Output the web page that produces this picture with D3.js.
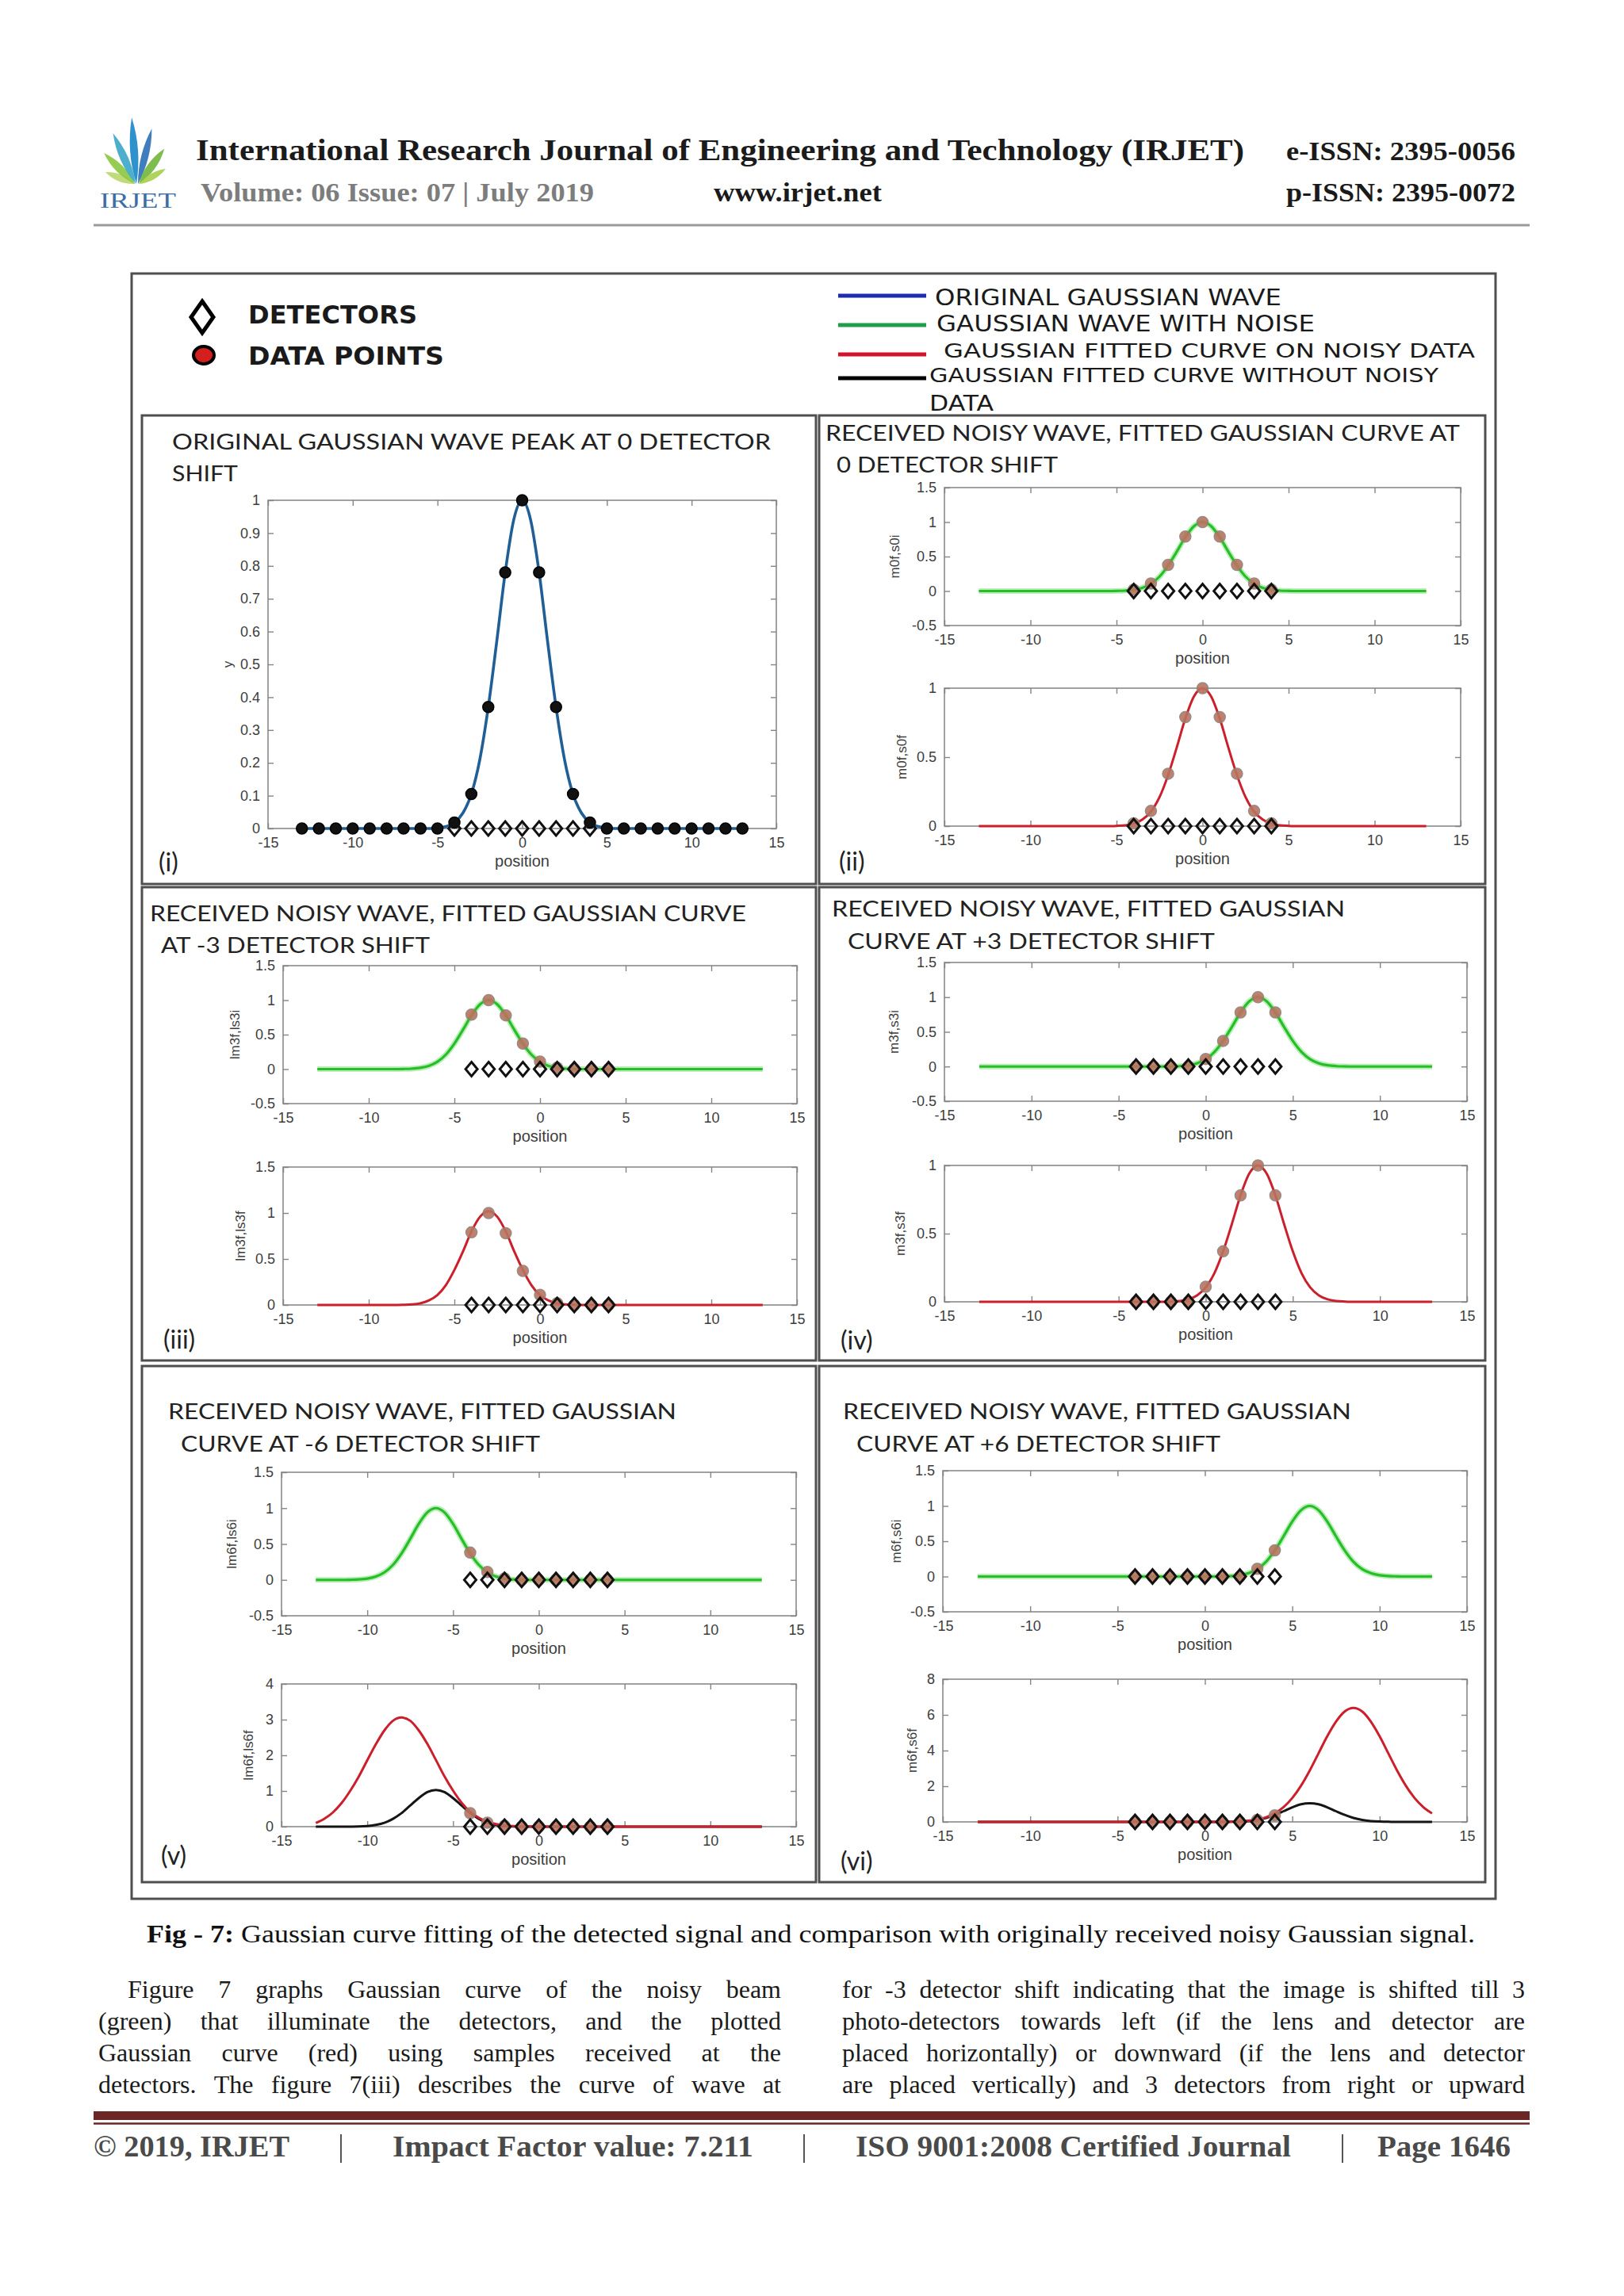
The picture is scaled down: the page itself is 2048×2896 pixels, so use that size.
<!DOCTYPE html>
<html><head><meta charset="utf-8">
<script src="https://cdn.jsdelivr.net/npm/d3@7"></script>
<style>html,body{margin:0;padding:0;background:#fff}svg{display:block}</style>
</head><body>
<svg id="c" width="2048" height="2896" xmlns="http://www.w3.org/2000/svg"></svg>
<script>
// ---------------- DATA ----------------
const xTicks = [-15,-10,-5,0,5,10,15];
const yTicksFine = [0,0.1,0.2,0.3,0.4,0.5,0.6,0.7,0.8,0.9,1];
const yTicksTop = [-0.5,0,0.5,1,1.5];
const yTicks01 = [0,0.5,1];
const yTicks015 = [0,0.5,1,1.5];
const yTicks04 = [0,1,2,3,4];
const yTicks08 = [0,2,4,6,8];

const gridX = [-13,-12.5,-12,-11.5,-11,-10.5,-10,-9.5,-9,-8.5,-8,-7.5,-7,-6.5,-6,-5.5,-5,-4.5,-4,-3.5,-3,-2.5,-2,-1.5,-1,-0.5,0,0.5,1,1.5,2,2.5,3,3.5,4,4.5,5,5.5,6,6.5,7,7.5,8,8.5,9,9.5,10,10.5,11,11.5,12,12.5,13];
const dotX_i = [-13,-12,-11,-10,-9,-8,-7,-6,-5,-4,-3,-2,-1,0,1,2,3,4,5,6,7,8,9,10,11,12,13];
const detectorX = [-4,-3,-2,-1,0,1,2,3,4];

// (i) original wave, peak at 0
const origWave_i = [0,0,0,0,0,0,0,0,0,0, 0,0,0,0,0,0, 0.002,0.006,0.018,0.047,0.105,0.21,0.37,0.57,0.78,0.94, 1.00, 0.94,0.78,0.57,0.37,0.21,0.105,0.047,0.018,0.006,0.002, 0,0,0,0,0,0,0,0,0,0, 0,0,0,0,0,0];
const dots_i = [0,0,0,0,0,0,0,0,0,0.018,0.105,0.37,0.78,1.00,0.78,0.37,0.105,0.018,0,0,0,0,0,0,0,0,0];

// (ii) 0 shift
const noisy_ii = [0,0,0,0,0,0,0,0,0,0, 0,0,0,0,0,0, 0.002,0.006,0.018,0.047,0.105,0.21,0.37,0.57,0.78,0.94, 1.00, 0.94,0.78,0.57,0.37,0.21,0.105,0.047,0.018,0.006,0.002, 0,0,0,0,0,0,0,0,0,0, 0,0,0,0,0,0];
const fit_ii = [0,0,0,0,0,0,0,0,0,0, 0,0,0,0,0,0, 0.002,0.006,0.018,0.047,0.105,0.21,0.37,0.57,0.78,0.94, 1.00, 0.94,0.78,0.57,0.37,0.21,0.105,0.047,0.018,0.006,0.002, 0,0,0,0,0,0,0,0,0,0, 0,0,0,0,0,0];
const dots_ii = [0.02,0.11,0.38,0.79,1.00,0.79,0.38,0.11,0.02];

// (iii) -3 shift
const noisy_iii = [0,0,0,0,0,0,0,0,0,0, 0.002,0.006,0.018,0.047,0.105,0.21,0.37,0.57,0.78,0.94, 1.00, 0.94,0.78,0.57,0.37,0.21,0.105,0.047,0.018,0.006,0.002, 0,0,0,0,0,0,0,0,0,0, 0,0,0,0,0,0,0,0,0,0, 0,0];
const fit_iii = [0,0,0,0,0,0,0,0,0,0, 0.002,0.006,0.018,0.048,0.107,0.215,0.38,0.58,0.80,0.96, 1.02, 0.96,0.80,0.58,0.38,0.215,0.107,0.048,0.018,0.006,0.002, 0,0,0,0,0,0,0,0,0,0, 0,0,0,0,0,0,0,0,0,0, 0,0];
const dots_iii = [0.79,1.00,0.78,0.37,0.11,0.02,0,0,0];

// (iv) +3 shift
const noisy_iv = [0,0,0,0,0,0,0,0,0,0, 0,0,0,0,0,0,0,0,0,0, 0,0, 0.002,0.006,0.018,0.047,0.105,0.21,0.37,0.57,0.78,0.94, 1.00, 0.94,0.78,0.57,0.37,0.21,0.105,0.047,0.018,0.006,0.002, 0,0,0,0,0,0,0,0,0,0];
const fit_iv = [0,0,0,0,0,0,0,0,0,0, 0,0,0,0,0,0,0,0,0,0, 0,0, 0.002,0.006,0.018,0.047,0.105,0.21,0.37,0.57,0.78,0.94, 1.00, 0.94,0.78,0.57,0.37,0.21,0.105,0.047,0.018,0.006,0.002, 0,0,0,0,0,0,0,0,0,0];
const dots_iv = [0,0,0,0,0.11,0.37,0.78,1.00,0.78];

// (v) -6 shift
const noisy_v = [0,0,0,0, 0.002,0.006,0.018,0.047,0.105,0.21,0.37,0.57,0.78,0.94, 1.00, 0.94,0.78,0.57,0.37,0.21,0.105,0.047,0.018,0.006,0.002, 0,0,0,0,0,0,0,0,0,0, 0,0,0,0,0,0,0,0,0,0, 0,0,0,0,0,0,0,0];
const fitNoisy_v = [0.10,0.22,0.40,0.66,1.00,1.40,1.86,2.31,2.70,2.97, 3.06, 2.97,2.70,2.32,1.87,1.41,1.01,0.67,0.42,0.25, 0.14,0.073,0.036,0.017,0.007,0.003, 0,0,0,0,0,0,0,0,0,0, 0,0,0,0,0,0,0,0,0,0, 0,0,0,0,0,0,0];
const fitClean_v = [0,0,0,0, 0.002,0.006,0.019,0.048,0.108,0.22,0.38,0.59,0.80,0.97, 1.03, 0.97,0.80,0.59,0.38,0.22,0.108,0.048,0.019,0.006,0.002, 0,0,0,0,0,0,0,0,0,0, 0,0,0,0,0,0,0,0,0,0, 0,0,0,0,0,0,0,0];
const dots_v = [0.38,0.11,0.02,0,0,0,0,0,0];

// (vi) +6 shift
const noisy_vi = [0,0,0,0,0,0,0,0,0,0, 0,0,0,0,0,0,0,0,0,0, 0,0,0,0,0,0,0,0, 0.002,0.006,0.018,0.047,0.105,0.21,0.37,0.57,0.78,0.94, 1.00, 0.94,0.78,0.57,0.37,0.21,0.105,0.047,0.018,0.006,0.002, 0,0,0,0];
const fitNoisy_vi = [0,0,0,0,0,0,0,0,0,0, 0,0,0,0,0,0,0,0,0,0, 0,0,0,0,0,0,0,0, 0.005,0.012,0.029,0.065,0.135,0.26,0.48,0.83,1.34,2.03,2.88,3.84,4.80,5.62,6.19, 6.39, 6.19,5.62,4.80,3.84,2.88,2.03,1.34,0.83,0.48];
const fitClean_vi = [0,0,0,0,0,0,0,0,0,0, 0,0,0,0,0,0,0,0,0,0, 0,0,0,0,0,0,0,0, 0.002,0.006,0.019,0.049,0.11,0.22,0.39,0.60,0.82,0.99, 1.05, 0.99,0.82,0.60,0.39,0.22,0.11,0.049,0.019,0.006,0.002, 0,0,0,0];
const dots_vi = [0,0,0,0,0,0,0,0.11,0.37];

// ---------------- STYLE / LAYOUT ----------------
const SANS = "'Liberation Sans', Arial, sans-serif";
const CAL = "Lato, 'Open Sans', sans-serif";
const SERIF = "'Liberation Serif', 'DejaVu Serif', serif";
const LEG = "'DejaVu Sans', sans-serif";
const C = {blue:'#1f5f96', green:'#26c026', greenHalo:'#a9e8a9', red:'#cc1f2c', black:'#151515', dot:'#b9735f', dotEdge:'#8f7f76', frame:'#4f4f4f'};

const svg = d3.select('#c');
svg.append('rect').attr('width',2048).attr('height',2896).attr('fill','#fff');

function T(parent, s, x, y, o = {}) {
  const t = parent.append('text').attr('x', x).attr('y', y).text(s)
    .attr('font-family', o.family || SERIF).attr('font-size', o.size || 30)
    .attr('font-weight', o.weight || 'normal').attr('fill', o.fill || '#1a1a1a');
  if (o.anchor) t.attr('text-anchor', o.anchor);
  if (o.len) t.attr('textLength', o.len).attr('lengthAdjust', 'spacingAndGlyphs');
  return t;
}

// ---------------- HEADER ----------------
const hdr = svg.append('g');
function leaf(bx, by, L, angDeg, w, color) {
  const a = angDeg * Math.PI / 180;
  const tx = bx + L * Math.sin(a), ty = by - L * Math.cos(a);
  const px = Math.cos(a), py = Math.sin(a);
  const mx = (bx + tx) / 2, my = (by + ty) / 2;
  hdr.append('path').attr('d', `M${bx},${by} Q${mx + px * w},${my + py * w} ${tx},${ty} Q${mx - px * w},${my - py * w} ${bx},${by} Z`)
    .attr('fill', color).attr('opacity', 0.9);
}
leaf(170, 232, 40, -68, 9, '#b8d86a');
leaf(170, 232, 55, -45, 10, '#8cc63f');
leaf(171, 232, 70, -24, 10, '#3aa6c8');
leaf(172, 232, 84, -4, 10, '#1a86c8');
leaf(174, 232, 72, 14, 9, '#2a6fb5');
leaf(175, 232, 55, 36, 10, '#6fb53a');
leaf(176, 232, 38, 60, 8, '#a5cf4a');
T(hdr, 'IRJET', 126, 262, {size: 28, fill: '#3b6ea5', len: 96});

T(hdr, 'International Research Journal of Engineering and Technology (IRJET)', 247, 202, {size: 38, weight: 'bold', len: 1322, fill: '#1b1b1b'});
T(hdr, 'e-ISSN: 2395-0056', 1622, 202, {size: 34, weight: 'bold', len: 289});
T(hdr, 'Volume: 06 Issue: 07 | July 2019', 253, 254, {size: 33, weight: 'bold', len: 496, fill: '#7d7d7d'});
T(hdr, 'www.irjet.net', 900, 254, {size: 33, weight: 'bold', len: 212});
T(hdr, 'p-ISSN: 2395-0072', 1622, 254, {size: 34, weight: 'bold', len: 289});
hdr.append('line').attr('x1', 118).attr('x2', 1929).attr('y1', 284).attr('y2', 284).attr('stroke', '#9a9a9a').attr('stroke-width', 3);

// ---------------- FIGURE FRAME & LEGEND ----------------
const fig = svg.append('g');
fig.append('rect').attr('x', 166).attr('y', 345).attr('width', 1720).attr('height', 2050)
  .attr('fill', 'none').attr('stroke', C.frame).attr('stroke-width', 3);

const diamondPath = (hw, hh) => `M0,${-hh} L${hw},0 L0,${hh} L${-hw},0 Z`;
fig.append('path').attr('d', diamondPath(14, 20)).attr('transform', 'translate(255,400)')
  .attr('fill', '#fff').attr('stroke', '#000').attr('stroke-width', 5);
fig.append('ellipse').attr('cx', 257).attr('cy', 448).attr('rx', 13).attr('ry', 11)
  .attr('fill', '#d41f1f').attr('stroke', '#000').attr('stroke-width', 4);
T(fig, 'DETECTORS', 313, 408, {family: LEG, size: 32, weight: 'bold', len: 213});
T(fig, 'DATA POINTS', 313, 460, {family: LEG, size: 32, weight: 'bold', len: 247});

const legendLines = [
  {c: '#1c2db0', y: 373, label: 'ORIGINAL GAUSSIAN WAVE', tx: 1179, ty: 385, len: 437, fs: 28},
  {c: '#1f9e4a', y: 410, label: 'GAUSSIAN WAVE WITH NOISE', tx: 1181, ty: 418, len: 477, fs: 28},
  {c: '#d0142c', y: 447, label: 'GAUSSIAN FITTED CURVE ON NOISY DATA', tx: 1190, ty: 451, len: 670, fs: 25},
  {c: '#000000', y: 477, label: 'GAUSSIAN FITTED CURVE WITHOUT NOISY', tx: 1172, ty: 482, len: 642, fs: 25}
];
legendLines.forEach(d => {
  fig.append('line').attr('x1', 1057).attr('x2', 1168).attr('y1', d.y).attr('y2', d.y).attr('stroke', d.c).attr('stroke-width', 5);
  T(fig, d.label, d.tx, d.ty, {family: LEG, size: d.fs, len: d.len});
});
T(fig, 'DATA', 1172, 518, {family: LEG, size: 27, len: 81});

// panels boxes
const panels = [
  {x: 179, y: 524, w: 850, h: 591, tag: '(i)', tagX: 200, tagY: 1099,
    title: [['ORIGINAL GAUSSIAN WAVE PEAK AT 0 DETECTOR', 217, 567, 755], ['SHIFT', 217, 607, 83]]},
  {x: 1033, y: 524, w: 840, h: 591, tag: '(ii)', tagX: 1058, tagY: 1098,
    title: [['RECEIVED NOISY WAVE, FITTED GAUSSIAN CURVE AT', 1041, 556, 800], ['0 DETECTOR SHIFT', 1055, 596, 279]]},
  {x: 179, y: 1119, w: 850, h: 597, tag: '(iii)', tagX: 206, tagY: 1701,
    title: [['RECEIVED NOISY WAVE, FITTED GAUSSIAN CURVE', 189, 1162, 752], ['AT -3 DETECTOR SHIFT', 203, 1202, 339]]},
  {x: 1033, y: 1119, w: 840, h: 597, tag: '(iv)', tagX: 1060, tagY: 1702,
    title: [['RECEIVED NOISY WAVE, FITTED GAUSSIAN', 1049, 1156, 647], ['CURVE AT +3 DETECTOR SHIFT', 1069, 1197, 463]]},
  {x: 179, y: 1723, w: 850, h: 651, tag: '(v)', tagX: 203, tagY: 2352,
    title: [['RECEIVED NOISY WAVE, FITTED GAUSSIAN', 212, 1790, 641], ['CURVE AT -6 DETECTOR SHIFT', 228, 1831, 453]]},
  {x: 1033, y: 1723, w: 840, h: 651, tag: '(vi)', tagX: 1060, tagY: 2359,
    title: [['RECEIVED NOISY WAVE, FITTED GAUSSIAN', 1063, 1790, 641], ['CURVE AT +6 DETECTOR SHIFT', 1080, 1831, 459]]}
];
panels.forEach(p => {
  fig.append('rect').attr('x', p.x).attr('y', p.y).attr('width', p.w).attr('height', p.h)
    .attr('fill', '#fff').attr('stroke', C.frame).attr('stroke-width', 3);
  p.title.forEach(t => T(fig, t[0], t[1], t[2], {family: CAL, size: 27, len: t[3], fill: '#222'}));
  T(fig, p.tag, p.tagX, p.tagY, {family: CAL, size: 32, fill: '#222'});
});

// ---------------- SUBPLOTS ----------------
const subplots = [
  {x0: 338, x1: 979, yt: 631, yb: 1045, ydom: [0, 1], yticks: yTicksFine, ylabel: 'y', ylx: 287,
    lines: [[origWave_i, 'blue']], dotX: dotX_i, dotV: dots_i, dotFill: '#111', dotEdge: '#000'},
  {x0: 1191, x1: 1842, yt: 615, yb: 789, ydom: [-0.5, 1.5], yticks: yTicksTop, ylabel: 'm0f,s0i', ylx: 1128,
    lines: [[noisy_ii, 'green']], dotX: detectorX, dotV: dots_ii},
  {x0: 1191, x1: 1842, yt: 868, yb: 1042, ydom: [0, 1], yticks: yTicks01, ylabel: 'm0f,s0f', ylx: 1137,
    lines: [[fit_ii, 'red']], dotX: detectorX, dotV: dots_ii},
  {x0: 357, x1: 1005, yt: 1218, yb: 1392, ydom: [-0.5, 1.5], yticks: yTicksTop, ylabel: 'lm3f,ls3i', ylx: 296,
    lines: [[noisy_iii, 'green']], dotX: detectorX, dotV: dots_iii},
  {x0: 357, x1: 1005, yt: 1472, yb: 1646, ydom: [0, 1.5], yticks: yTicks015, ylabel: 'lm3f,ls3f', ylx: 303,
    lines: [[fit_iii, 'red']], dotX: detectorX, dotV: dots_iii},
  {x0: 1191, x1: 1850, yt: 1214, yb: 1389, ydom: [-0.5, 1.5], yticks: yTicksTop, ylabel: 'm3f,s3i', ylx: 1127,
    lines: [[noisy_iv, 'green']], dotX: detectorX, dotV: dots_iv},
  {x0: 1191, x1: 1850, yt: 1470, yb: 1642, ydom: [0, 1], yticks: yTicks01, ylabel: 'm3f,s3f', ylx: 1135,
    lines: [[fit_iv, 'red']], dotX: detectorX, dotV: dots_iv},
  {x0: 355, x1: 1004, yt: 1857, yb: 2038, ydom: [-0.5, 1.5], yticks: yTicksTop, ylabel: 'lm6f,ls6i', ylx: 292,
    lines: [[noisy_v, 'green']], dotX: detectorX, dotV: dots_v},
  {x0: 355, x1: 1004, yt: 2124, yb: 2304, ydom: [0, 4], yticks: yTicks04, ylabel: 'lm6f,ls6f', ylx: 313,
    lines: [[fitClean_v, 'black'], [fitNoisy_v, 'red']], dotX: detectorX, dotV: dots_v},
  {x0: 1189, x1: 1850, yt: 1855, yb: 2033, ydom: [-0.5, 1.5], yticks: yTicksTop, ylabel: 'm6f,s6i', ylx: 1130,
    lines: [[noisy_vi, 'green']], dotX: detectorX, dotV: dots_vi},
  {x0: 1189, x1: 1850, yt: 2118, yb: 2298, ydom: [0, 8], yticks: yTicks08, ylabel: 'm6f,s6f', ylx: 1150,
    lines: [[fitClean_vi, 'black'], [fitNoisy_vi, 'red']], dotX: detectorX, dotV: dots_vi}
];

const fmt = d => String(d);
function styleAxis(g) {
  g.attr('font-family', SANS).attr('font-size', 18);
  g.selectAll('.domain').remove();
  g.selectAll('.tick line').attr('stroke', '#858585').attr('stroke-width', 1.4);
  g.selectAll('.tick text').attr('fill', '#3d3d3d');
}

subplots.forEach(s => {
  const g = svg.append('g');
  const x = d3.scaleLinear().domain([-15, 15]).range([s.x0, s.x1]);
  const y = d3.scaleLinear().domain(s.ydom).range([s.yb, s.yt]);
  g.append('rect').attr('x', s.x0).attr('y', s.yt).attr('width', s.x1 - s.x0).attr('height', s.yb - s.yt)
    .attr('fill', '#fff').attr('stroke', '#8a8a8a').attr('stroke-width', 1.6);
  g.append('g').attr('transform', `translate(0,${s.yb})`)
    .call(d3.axisBottom(x).tickValues(xTicks).tickSizeInner(-7).tickSizeOuter(0).tickPadding(11).tickFormat(fmt)).call(styleAxis);
  g.append('g').attr('transform', `translate(0,${s.yt})`)
    .call(d3.axisTop(x).tickValues(xTicks).tickSizeInner(-7).tickSizeOuter(0).tickFormat('')).call(styleAxis);
  g.append('g').attr('transform', `translate(${s.x0},0)`)
    .call(d3.axisLeft(y).tickValues(s.yticks).tickSizeInner(-7).tickSizeOuter(0).tickPadding(10).tickFormat(fmt)).call(styleAxis);
  g.append('g').attr('transform', `translate(${s.x1},0)`)
    .call(d3.axisRight(y).tickValues(s.yticks).tickSizeInner(-7).tickSizeOuter(0).tickFormat('')).call(styleAxis);

  T(g, 'position', (s.x0 + s.x1) / 2, s.yb + 48, {family: SANS, size: 20, fill: '#3d3d3d', anchor: 'middle'});
  T(g, s.ylabel, 0, 0, {family: SANS, size: 17, fill: '#3d3d3d', anchor: 'middle'})
    .attr('transform', `translate(${s.ylx},${(s.yt + s.yb) / 2}) rotate(-90)`).attr('dy', '0.35em');

  const line = d3.line().x((d, i) => x(gridX[i])).y(d => y(d)).curve(d3.curveMonotoneX);
  s.lines.forEach(([vals, kind]) => {
    if (kind === 'green') {
      g.append('path').attr('d', line(vals)).attr('fill', 'none').attr('stroke', C.greenHalo).attr('stroke-width', 7).attr('opacity', 0.8);
      g.append('path').attr('d', line(vals)).attr('fill', 'none').attr('stroke', C.green).attr('stroke-width', 3.2);
    } else {
      g.append('path').attr('d', line(vals)).attr('fill', 'none').attr('stroke', C[kind]).attr('stroke-width', kind === 'blue' ? 3.6 : 3);
    }
  });

  g.selectAll('circle.pt').data(s.dotV).join('circle').attr('class', 'pt')
    .attr('cx', (d, i) => x(s.dotX[i])).attr('cy', d => y(d)).attr('r', 7)
    .attr('fill', s.dotFill || C.dot).attr('stroke', s.dotEdge || C.dotEdge).attr('stroke-width', 1.5)
    .attr('opacity', s.dotFill ? 1 : 0.9);

  g.selectAll('path.det').data(detectorX).join('path').attr('class', 'det')
    .attr('d', diamondPath(7.5, 9)).attr('transform', d => `translate(${x(d)},${y(0)})`)
    .attr('fill', 'none').attr('stroke', '#111').attr('stroke-width', 3);
});

// ---------------- CAPTION & BODY ----------------
const body = svg.append('g');
const cap = body.append('text').attr('x', 185).attr('y', 2450).attr('font-family', SERIF).attr('font-size', 32).attr('fill', '#111')
  .attr('textLength', 1675).attr('lengthAdjust', 'spacingAndGlyphs');
cap.append('tspan').attr('font-weight', 'bold').text('Fig - 7: ');
cap.append('tspan').text('Gaussian curve fitting of the detected signal and comparison with originally received noisy Gaussian signal.');

function justify(str, x0, x1, yb) {
  const words = str.split(' ');
  const nodes = words.map(w => body.append('text').text(w).attr('font-family', SERIF).attr('font-size', 32).attr('fill', '#1a1a1a').attr('y', yb));
  const widths = nodes.map(n => n.node().getComputedTextLength());
  const gap = (x1 - x0 - d3.sum(widths)) / (words.length - 1);
  let cx = x0;
  nodes.forEach((n, i) => { n.attr('x', cx); cx += widths[i] + gap; });
}
const leftCol = [
  'Figure 7 graphs Gaussian curve of the noisy beam',
  '(green) that illuminate the detectors, and the plotted',
  'Gaussian curve (red) using samples received at the',
  'detectors. The figure 7(iii) describes the curve of wave at'
];
const rightCol = [
  'for -3 detector shift indicating that the image is shifted till 3',
  'photo-detectors towards left (if the lens and detector are',
  'placed horizontally) or downward (if the lens and detector',
  'are placed vertically) and 3 detectors from right or upward'
];
const baselines = [2520, 2560, 2600, 2640];
leftCol.forEach((l, i) => justify(l, i === 0 ? 161 : 124, 985, baselines[i]));
rightCol.forEach((l, i) => justify(l, 1062, 1923, baselines[i]));

// ---------------- FOOTER ----------------
const ft = svg.append('g');
ft.append('rect').attr('x', 118).attr('y', 2663).attr('width', 1811).attr('height', 11).attr('fill', '#6b2626');
ft.append('line').attr('x1', 118).attr('x2', 1929).attr('y1', 2678.5).attr('y2', 2678.5).attr('stroke', '#6b2626').attr('stroke-width', 2.5);
const footItems = [['© 2019, IRJET', 118, 247], ['Impact Factor value: 7.211', 495, 455], ['ISO 9001:2008 Certified Journal', 1079, 549], ['Page 1646', 1737, 168]];
footItems.forEach(f => T(ft, f[0], f[1], 2720, {size: 38, weight: 'bold', fill: '#4a4a4a', len: f[2]}));
[430, 1014, 1693].forEach(xx => ft.append('line').attr('x1', xx).attr('x2', xx).attr('y1', 2692).attr('y2', 2728).attr('stroke', '#555').attr('stroke-width', 2));
</script>
</body></html>
